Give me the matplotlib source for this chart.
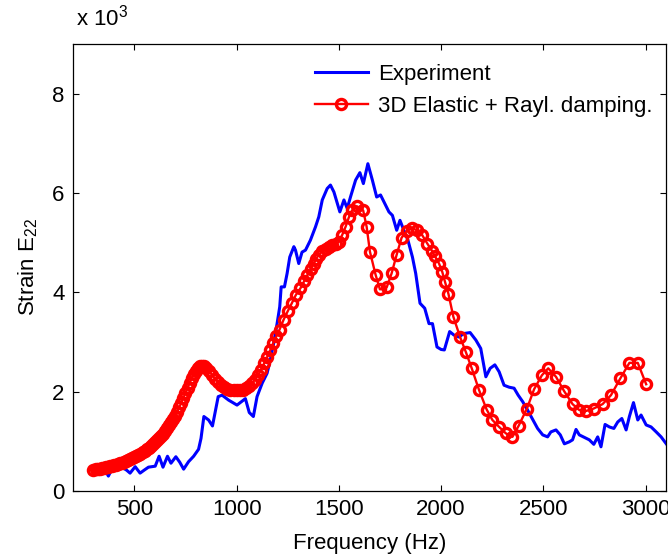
import numpy as np
import matplotlib.pyplot as plt

plt.rcParams['font.family'] = ['Liberation Sans', 'DejaVu Sans']
plt.rcParams['mathtext.fontset'] = 'custom'
plt.rcParams['mathtext.rm'] = 'Liberation Sans'
plt.rcParams['mathtext.it'] = 'Liberation Sans'

# measured response (strain in units of 1e-3)
exp_freq = [300, 320, 340, 360, 373, 385, 397, 420, 446, 462, 479, 504, 528, 548, 569,
            602, 621, 640, 662, 679, 703, 722, 741, 765, 790, 814, 826, 840, 863, 882,
            910, 929, 961, 1002, 1043, 1062, 1082, 1100, 1125, 1149, 1165, 1181, 1198,
            1211, 1218, 1234, 1247, 1260, 1280, 1288, 1304, 1320, 1337, 1361, 1386,
            1402, 1419, 1443, 1459, 1476, 1505, 1525, 1541, 1557, 1582, 1603, 1620,
            1642, 1664, 1685, 1704, 1729, 1745, 1762, 1783, 1799, 1818, 1838, 1860,
            1876, 1897, 1920, 1941, 1958, 1980, 2000, 2016, 2042, 2063, 2088, 2110,
            2142, 2170, 2194, 2219, 2240, 2263, 2284, 2308, 2333, 2357, 2377, 2399,
            2423, 2472, 2497, 2521, 2537, 2562, 2583, 2603, 2627, 2643, 2660, 2676,
            2701, 2725, 2747, 2766, 2782, 2802, 2823, 2845, 2864, 2884, 2905, 2921,
            2941, 2962, 2978, 3003, 3027, 3052, 3076, 3105]
exp_strain = [0.40, 0.41, 0.43, 0.40, 0.30, 0.40, 0.42, 0.44, 0.46, 0.42, 0.36, 0.49, 0.36,
              0.42, 0.48, 0.50, 0.70, 0.48, 0.70, 0.56, 0.69, 0.58, 0.44, 0.59, 0.70, 0.84,
              1.06, 1.50, 1.43, 1.31, 1.90, 1.93, 1.83, 1.73, 1.86, 1.58, 1.50, 1.90, 2.17,
              2.37, 2.64, 2.97, 3.37, 3.71, 4.11, 4.11, 4.38, 4.71, 4.92, 4.85, 4.58, 4.81,
              4.85, 5.05, 5.32, 5.52, 5.86, 6.09, 6.16, 6.02, 5.62, 5.86, 5.69, 5.92, 6.26,
              6.41, 6.19, 6.59, 6.26, 5.92, 5.96, 5.75, 5.62, 5.55, 5.25, 5.45, 5.25, 5.05,
              4.71, 4.38, 3.78, 3.68, 3.37, 3.37, 2.90, 2.85, 2.84, 3.21, 3.14, 3.10, 3.17,
              3.19, 3.04, 2.87, 2.30, 2.47, 2.54, 2.40, 2.13, 2.09, 2.07, 1.93, 1.80, 1.63,
              1.26, 1.13, 1.09, 1.19, 1.23, 1.13, 0.95, 0.99, 1.03, 1.24, 1.13, 1.08, 1.03,
              0.94, 1.09, 0.89, 1.34, 1.29, 1.26, 1.39, 1.46, 1.23, 1.50, 1.78, 1.43, 1.53,
              1.33, 1.29, 1.19, 1.09, 0.93]

# 3D elastic model with Rayleigh damping
sim_freq = [300, 310, 320, 330, 340, 350, 360, 370, 380, 390, 400, 410, 420, 430, 440,
            450, 460, 470, 480, 490, 500, 510, 520, 530, 540, 550, 560, 570, 580, 590,
            600, 610, 620, 630, 640, 650, 660, 670, 680, 690, 700, 710, 720, 730, 740,
            750, 760, 770, 780, 790, 800, 810, 820, 830, 840, 850, 865, 880, 895, 910,
            925, 940, 955, 970, 985, 1000, 1015, 1030, 1045, 1060, 1075, 1090, 1105,
            1120, 1135, 1150, 1165, 1180, 1195, 1210, 1230, 1250, 1270, 1290, 1312,
            1330, 1345, 1362, 1378, 1390, 1402, 1418, 1435, 1450, 1467, 1485, 1500,
            1516, 1533, 1549, 1565, 1590, 1619, 1636, 1652, 1680, 1701, 1734, 1758,
            1783, 1807, 1832, 1859, 1883, 1908, 1933, 1955, 1970, 1990, 2006, 2020,
            2036, 2060, 2093, 2121, 2150, 2186, 2223, 2251, 2284, 2317, 2349, 2379,
            2420, 2455, 2493, 2524, 2562, 2602, 2643, 2676, 2708, 2746, 2790, 2831,
            2877, 2921, 2962, 3003]
sim_strain = [0.43, 0.44, 0.45, 0.45, 0.46, 0.47, 0.48, 0.49, 0.50, 0.51, 0.52, 0.53, 0.55,
              0.56, 0.57, 0.59, 0.61, 0.62, 0.64, 0.66, 0.68, 0.70, 0.72, 0.75, 0.78, 0.81,
              0.84, 0.87, 0.90, 0.94, 0.98, 1.02, 1.06, 1.10, 1.15, 1.20, 1.26, 1.32, 1.38,
              1.44, 1.52, 1.60, 1.69, 1.78, 1.88, 1.97, 2.07, 2.17, 2.27, 2.35, 2.42, 2.47,
              2.51, 2.52, 2.51, 2.48, 2.41, 2.34, 2.26, 2.19, 2.13, 2.09, 2.06, 2.04, 2.03,
              2.03, 2.03, 2.04, 2.07, 2.11, 2.17, 2.24, 2.33, 2.44, 2.57, 2.70, 2.84, 2.98,
              3.12, 3.25, 3.45, 3.62, 3.78, 3.95, 4.08, 4.22, 4.34, 4.46, 4.58, 4.68, 4.76,
              4.83, 4.88, 4.92, 4.95, 4.98, 5.02, 5.15, 5.32, 5.51, 5.65, 5.73, 5.65, 5.32,
              4.82, 4.35, 4.06, 4.10, 4.38, 4.76, 5.10, 5.24, 5.29, 5.25, 5.15, 4.98, 4.84,
              4.73, 4.58, 4.41, 4.20, 3.97, 3.51, 3.10, 2.80, 2.47, 2.03, 1.64, 1.43, 1.29,
              1.16, 1.09, 1.31, 1.66, 2.05, 2.33, 2.47, 2.30, 2.01, 1.75, 1.63, 1.61, 1.66,
              1.75, 1.93, 2.27, 2.58, 2.58, 2.15]

x_ticks = [500, 1000, 1500, 2000, 2500, 3000]
y_ticks = [0, 2, 4, 6, 8]

fig = plt.figure(figsize=(6.68, 5.55), dpi=100)
ax = fig.add_axes([0.1093, 0.1153, 0.8877, 0.8054])

ax.plot(exp_freq, exp_strain, color='#0000ff', lw=2.2, label='Experiment')
ax.plot(sim_freq, sim_strain, color='#ff0000', lw=1.7, marker='o', markersize=7.3,
        markerfacecolor='none', markeredgewidth=2.4,
        label='3D Elastic + Rayl. damping.')

ax.set_xlim(200, 3100)
ax.set_ylim(0, 9)
ax.set_xticks(x_ticks)
ax.set_yticks(y_ticks)
ax.tick_params(direction='in', top=True, right=True, length=4, width=0.8,
               labelsize=16, pad=6)
for sp in ax.spines.values():
    sp.set_linewidth(0.9)

ax.set_xlabel('Frequency (Hz)', fontsize=16, labelpad=9)
ax.set_ylabel('Strain E$_{22}$', fontsize=16, labelpad=9)
ax.text(0.005, 1.03, 'x 10$^3$', transform=ax.transAxes, fontsize=16,
        ha='left', va='bottom')

ax.legend(loc='upper right', frameon=False, fontsize=16, numpoints=1,
          handlelength=2.4, handletextpad=0.45, labelspacing=0.5,
          borderaxespad=0.2, bbox_to_anchor=(1.0, 0.985))

fig.savefig('out.png', dpi=100)
